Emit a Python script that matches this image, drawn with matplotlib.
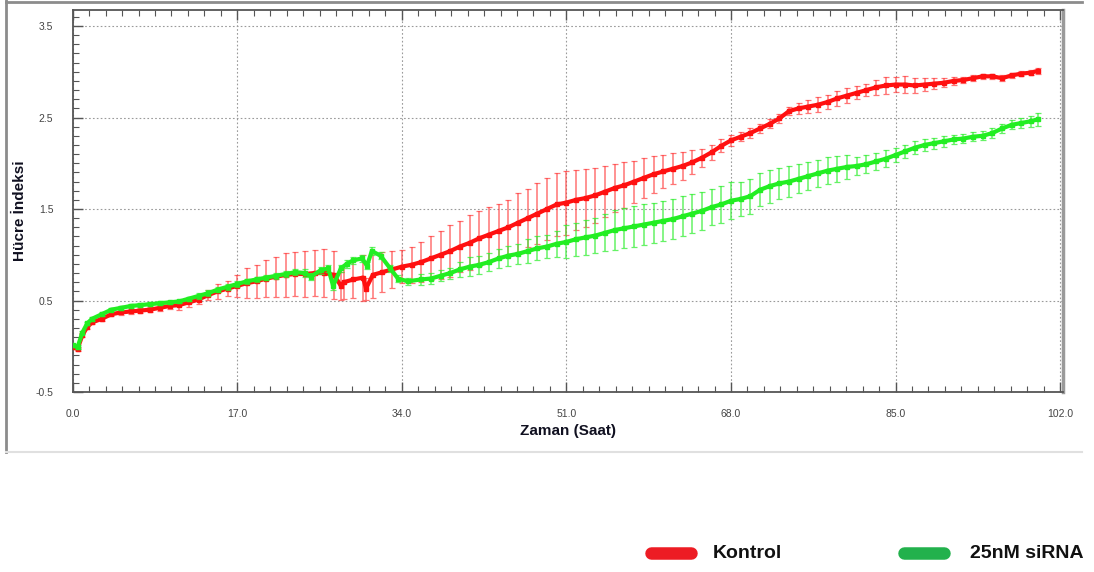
import matplotlib
matplotlib.use("Agg")
import matplotlib.pyplot as plt
from matplotlib.lines import Line2D
from matplotlib.ticker import MultipleLocator, FixedLocator

# ---------------- data ----------------
kontrol_t = [0, 0.5, 1, 1.5, 2, 3, 4, 5, 6, 7, 8, 9, 10, 11, 12, 13, 14, 15, 16, 17,
             18, 19, 20, 21, 22, 23, 24, 25, 26, 27, 27.7, 28, 29, 30, 30.3, 31, 32, 33, 34,
             35, 36, 37, 38, 39, 40, 41, 42, 43, 44, 45, 46, 47, 48, 49, 50, 51, 52, 53, 54,
             55, 56, 57, 58, 59, 60, 61, 62, 63, 64, 65, 66, 67, 68, 69, 70, 71, 72, 73, 74,
             75, 76, 77, 78, 79, 80, 81, 82, 83, 84, 85, 86, 87, 88, 89, 90, 91, 92, 93, 94,
             95, 96, 97, 98, 99, 99.7]
kontrol_v = [-0.01, -0.03, 0.12, 0.21, 0.26, 0.30, 0.35, 0.37, 0.38, 0.39, 0.40, 0.42, 0.44, 0.45, 0.48, 0.51, 0.56, 0.60, 0.63, 0.66,
             0.69, 0.71, 0.74, 0.76, 0.78, 0.79, 0.79, 0.80, 0.80, 0.78, 0.66, 0.70, 0.73, 0.75, 0.63, 0.78, 0.81, 0.84, 0.87,
             0.89, 0.92, 0.96, 1.00, 1.04, 1.09, 1.13, 1.18, 1.22, 1.26, 1.30, 1.35, 1.40, 1.45, 1.50, 1.55, 1.57, 1.60, 1.62, 1.65,
             1.69, 1.73, 1.76, 1.80, 1.84, 1.88, 1.91, 1.94, 1.97, 2.01, 2.06, 2.12, 2.19, 2.25, 2.29, 2.33, 2.38, 2.43, 2.49, 2.57,
             2.60, 2.62, 2.64, 2.67, 2.71, 2.74, 2.77, 2.80, 2.83, 2.85, 2.86, 2.86, 2.85, 2.86, 2.87, 2.88, 2.90, 2.91, 2.93, 2.95,
             2.95, 2.93, 2.96, 2.98, 2.99, 3.01]
kontrol_err = [0.02, 0.02, 0.02, 0.02, 0.02, 0.02, 0.02, 0.03, 0.03, 0.03, 0.03, 0.03, 0.03, 0.05, 0.05, 0.05, 0.05, 0.08, 0.08, 0.12,
               0.16, 0.18, 0.20, 0.22, 0.24, 0.24, 0.25, 0.25, 0.26, 0.26, 0.15, 0.18, 0.20, 0.25, 0.12, 0.25, 0.22, 0.20, 0.18,
               0.20, 0.22, 0.24, 0.26, 0.28, 0.28, 0.30, 0.30, 0.30, 0.30, 0.30, 0.32, 0.32, 0.33, 0.34, 0.34, 0.35, 0.33, 0.32, 0.30,
               0.28, 0.26, 0.25, 0.23, 0.22, 0.20, 0.18, 0.17, 0.15, 0.13, 0.10, 0.08, 0.07, 0.06, 0.05, 0.05, 0.05, 0.05, 0.05, 0.04,
               0.06, 0.07, 0.08, 0.08, 0.08, 0.08, 0.07, 0.07, 0.08, 0.09, 0.08, 0.09, 0.08, 0.07, 0.06, 0.05, 0.04, 0.03, 0.03, 0.03,
               0.03, 0.03, 0.03, 0.03, 0.03, 0.03]

sirna_t = [0, 0.5, 1, 1.5, 2, 3, 4, 5, 6, 7, 8, 9, 10, 11, 12, 13, 14, 15, 16, 17,
           18, 19, 20, 21, 22, 23, 24, 24.6, 25.6, 26.4, 26.9, 27.7, 28.3, 29, 29.9, 30.4, 30.9, 31.8, 32.8, 33.6,
           34.6, 36, 37, 38, 39, 40, 41, 42, 43, 44, 45, 46, 47, 48, 49, 50, 51, 52, 53, 54,
           55, 56, 57, 58, 59, 60, 61, 62, 63, 64, 65, 66, 67, 68, 69, 70, 71, 72, 73, 74,
           75, 76, 77, 78, 79, 80, 81, 82, 83, 84, 85, 86, 87, 88, 89, 90, 91, 92, 93, 94,
           95, 96, 97, 98, 99, 99.7]
sirna_v = [0.01, -0.01, 0.15, 0.25, 0.30, 0.35, 0.40, 0.42, 0.44, 0.45, 0.46, 0.47, 0.48, 0.49, 0.52, 0.55, 0.58, 0.62, 0.65, 0.68,
           0.71, 0.73, 0.75, 0.77, 0.79, 0.81, 0.80, 0.76, 0.83, 0.85, 0.66, 0.85, 0.90, 0.94, 0.96, 0.88, 1.04, 0.99, 0.85, 0.74,
           0.71, 0.73, 0.74, 0.77, 0.80, 0.84, 0.87, 0.89, 0.92, 0.96, 0.99, 1.01, 1.04, 1.07, 1.09, 1.12, 1.14, 1.17, 1.19, 1.21,
           1.24, 1.27, 1.29, 1.31, 1.33, 1.35, 1.37, 1.39, 1.42, 1.45, 1.48, 1.52, 1.55, 1.59, 1.61, 1.64, 1.71, 1.75, 1.78, 1.80,
           1.83, 1.86, 1.89, 1.92, 1.94, 1.96, 1.97, 1.99, 2.02, 2.05, 2.09, 2.13, 2.17, 2.20, 2.22, 2.24, 2.26, 2.27, 2.29, 2.30,
           2.33, 2.38, 2.42, 2.44, 2.46, 2.48]
sirna_err = [0.02, 0.02, 0.02, 0.02, 0.02, 0.02, 0.02, 0.02, 0.02, 0.02, 0.02, 0.02, 0.02, 0.02, 0.02, 0.03, 0.03, 0.03, 0.03, 0.03,
             0.03, 0.03, 0.03, 0.03, 0.03, 0.03, 0.04, 0.04, 0.04, 0.04, 0.04, 0.04, 0.04, 0.04, 0.04, 0.04, 0.04, 0.04, 0.04, 0.04,
             0.04, 0.06, 0.06, 0.06, 0.06, 0.08, 0.10, 0.10, 0.10, 0.10, 0.11, 0.11, 0.13, 0.13, 0.13, 0.14, 0.18, 0.18, 0.19, 0.19,
             0.20, 0.22, 0.22, 0.22, 0.22, 0.22, 0.22, 0.22, 0.22, 0.21, 0.21, 0.20, 0.20, 0.20, 0.19, 0.19, 0.18, 0.18, 0.17, 0.17,
             0.16, 0.15, 0.15, 0.15, 0.14, 0.13, 0.10, 0.10, 0.09, 0.09, 0.08, 0.07, 0.07, 0.07, 0.06, 0.06, 0.05, 0.05, 0.05, 0.05,
             0.05, 0.05, 0.05, 0.06, 0.06, 0.07]

x_major = [0, 17, 34, 51, 68, 85, 102]
x_labels = ["0.0", "17.0", "34.0", "51.0", "68.0", "85.0", "102.0"]
y_major = [-0.5, 0.5, 1.5, 2.5, 3.5]
y_labels = ["-0.5", "0.5", "1.5", "2.5", "3.5"]
series_names = ["Kontrol", "25nM siRNA"]

# ---------------- figure ----------------
fig = plt.figure(figsize=(10.94, 5.72), dpi=100)
plt.rcParams['font.family'] = ['Liberation Sans', 'DejaVu Sans']

# outer gray frame of the chart panel
fig.add_artist(Line2D([6/1094, 6/1094], [1 - 452/572, 1.0], transform=fig.transFigure,
                      color="#8c8c8c", lw=2))
fig.add_artist(Line2D([6/1094, 1082/1094], [1 - 2/572, 1 - 2/572], transform=fig.transFigure,
                      color="#8c8c8c", lw=2))
fig.add_artist(Line2D([6/1094, 1082/1094], [1 - 452/572, 1 - 452/572], transform=fig.transFigure,
                      color="#e0e0e0", lw=1.5))

ax = fig.add_axes([72.7/1094, 1 - 392/572, (1063 - 72.7)/1094, (392 - 10)/572])

red_line = "#ff1010"
red_bar = "#ff3a3a"
green_line = "#22ee22"
green_bar = "#33ee33"

ax.errorbar(kontrol_t, kontrol_v, yerr=kontrol_err, fmt="none", ecolor=red_bar,
            elinewidth=1.1, capsize=2.5, capthick=0.9, alpha=0.7, zorder=2)
ax.plot(kontrol_t, kontrol_v, color=red_line, lw=3.0, marker="s", ms=2.5,
        solid_joinstyle="round", zorder=3)

ax.errorbar(sirna_t, sirna_v, yerr=sirna_err, fmt="none", ecolor=green_bar,
            elinewidth=1.1, capsize=2.5, capthick=0.9, alpha=0.75, zorder=4)
ax.plot(sirna_t, sirna_v, color=green_line, lw=3.0, marker="s", ms=2.5,
        solid_joinstyle="round", zorder=5)

ax.set_xlim(0, 102.3)
ax.set_ylim(-0.5, 3.675)

ax.xaxis.set_major_locator(FixedLocator(x_major))
ax.set_xticklabels(x_labels)
ax.xaxis.set_minor_locator(MultipleLocator(1.7))
ax.yaxis.set_major_locator(FixedLocator(y_major))
ax.set_yticklabels(y_labels)
ax.yaxis.set_minor_locator(MultipleLocator(0.1))

ax.tick_params(axis="both", which="major", direction="in", length=7, width=1.0,
               color="#555555", labelsize=7.5, labelcolor="#444444", top=True, right=False)
ax.tick_params(axis="both", which="minor", direction="in", length=4, width=0.8,
               color="#555555", top=True, right=False)
ax.tick_params(axis="x", which="major", pad=12)
ax.tick_params(axis="y", which="major", pad=14)

ax.grid(True, which="major", color="#9a9a9a", linestyle=(0, (1.5, 2)), lw=0.8)
ax.set_axisbelow(True)

for side in ["left", "bottom", "top"]:
    ax.spines[side].set_color("#555555")
    ax.spines[side].set_linewidth(1.3)
ax.spines["right"].set_color("#9a9a9a")
ax.spines["right"].set_linewidth(2.5)

ax.set_xlabel("Zaman (Saat)", fontsize=11, fontweight="bold", color="#101020", labelpad=4)
fig.text(20/1094, 1 - 211/572, "Hücre İndeksi", rotation=90, fontsize=11,
         fontweight="bold", color="#101020", ha="center", va="center")

# ---------------- legend at the bottom ----------------
leg_items = [(series_names[0], "#ed1c24", 651, 691, 713),
             (series_names[1], "#22b14c", 904, 944, 970)]
for name, col, x0, x1, xt in leg_items:
    fig.add_artist(Line2D([x0/1094, x1/1094], [1 - 553/572, 1 - 553/572],
                          transform=fig.transFigure, color=col, lw=9,
                          solid_capstyle="round"))
    fig.text(xt/1094, 1 - 553/572, name, fontsize=14, fontweight="bold",
             color="#111111", ha="left", va="center")

fig.savefig("out.png", dpi=100)
